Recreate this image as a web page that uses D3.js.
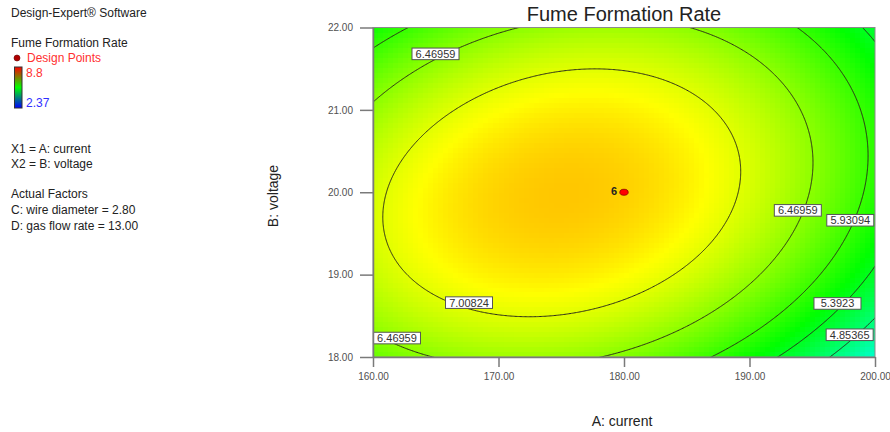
<!DOCTYPE html>
<html lang="en">
<head>
<meta charset="UTF-8">
<title>Fume Formation Rate</title>
<script src="https://d3js.org/d3.v7.min.js"></script>
<style>
  body { margin: 0; background: #fff; }
  svg text { font-family: Arial, "Liberation Sans", sans-serif; }
</style>
</head>
<body>
<svg id="chart" width="890" height="432"></svg>
<script>
// axis ticks
const currentTicks = [160, 170, 180, 190, 200];
const voltageTicks = [18, 19, 20, 21, 22];

// contour levels drawn in the plot and the colour range of the legend
const levels = [4.85365, 5.3923, 5.93094, 6.46959, 7.00824];
const colorMin = 2.37, colorMax = 8.8;

// design point (centre point, 6 replicates)
const designCurrent = [180];
const designVoltage = [20];
const designCount = [6];

// points: [current, voltage]
const trace4853 = [[200, 18.47], [198.01, 18.25], [196.55, 18.0]];
const trace5392 = [[200, 19.04], [199.6, 18.97], [196.95, 18.66], [192.29, 18.0]];
const trace5931 = [[160, 21.73], [163.08, 22.0], [194.02, 22.0], [196.95, 21.57], [198.8, 21.08],
  [199.47, 20.55], [199.34, 20.19], [198.01, 19.66], [197.35, 19.42], [197.21, 19.3],
  [191.63, 18.45], [190.84, 18.33], [186.85, 18.0]];
const trace6470 = [[160.02, 21.1], [165.08, 21.61], [167.99, 21.85], [171.71, 22.0],
  [185.26, 22.0], [189.51, 21.69], [192.96, 21.16], [194.56, 20.67], [194.96, 20.27],
  [194.56, 19.82], [193.23, 19.3], [190.84, 18.9], [187.09, 18.49], [181.27, 18.13],
  [178.22, 18.0], [160.0, 18.24], [161.89, 18.15], [164.94, 18.0]];
const trace7008 = [[160.82, 19.78], [161.35, 19.42], [162.02, 20.39], [164.68, 20.88],
  [169.72, 21.28], [172.25, 21.4], [177.03, 21.5], [180.72, 21.46], [182.87, 21.38],
  [186.32, 21.12], [188.18, 20.76], [189.11, 20.31], [188.71, 19.95], [186.85, 19.3],
  [184.46, 19.1], [179.12, 18.73], [171.18, 18.5], [167.33, 18.61], [163.35, 19.02]];
const traces = [trace4853, trace5392, trace5931, trace6470, trace7008];

// contour value boxes as placed in the picture
const labelValue = [6.46959, 6.46959, 5.93094, 7.00824, 6.46959, 5.3923, 4.85365];
const labelCurrent = [164.98, 193.85, 198.03, 167.65, 161.91, 197.01, 197.98];
const labelVoltage = [21.68, 19.78, 19.66, 18.66, 18.23, 18.65, 18.27];

const svg = d3.select('#chart');
const x = d3.scaleLinear().domain([160, 200]).range([373, 875]);
const y = d3.scaleLinear().domain([18, 22]).range([357, 27.5]);

// least squares cubic surface through the traced contour points (coded units)
const terms = (a, b) => [1, a, b, a * b, a * a, b * b, a * a * a, a * a * b, a * b * b, b * b * b];
function fitSurface() {
  const n = 10;
  const M = Array.from({ length: n }, () => new Array(n + 1).fill(0));
  traces.forEach((tr, k) => tr.forEach(([c, v]) => {
    const t = terms((c - 180) / 20, (v - 20) / 2);
    for (let i = 0; i < n; i++) {
      for (let j = 0; j < n; j++) M[i][j] += t[i] * t[j];
      M[i][n] += t[i] * levels[k];
    }
  }));
  for (let c = 0; c < n; c++) {
    let p = c;
    for (let r = c + 1; r < n; r++) if (Math.abs(M[r][c]) > Math.abs(M[p][c])) p = r;
    [M[c], M[p]] = [M[p], M[c]];
    for (let r = 0; r < n; r++) {
      if (r === c) continue;
      const f = M[r][c] / M[c][c];
      for (let k = c; k <= n; k++) M[r][k] -= f * M[c][k];
    }
  }
  return M.map((row, i) => row[n] / row[i]);
}
const coef = fitSurface();
const rate = (c, v) => d3.sum(terms((c - 180) / 20, (v - 20) / 2), (t, i) => t * coef[i]);

const color = d3.scaleLinear()
  .domain([0, 0.25, 0.5, 0.75, 1].map(t => colorMin + t * (colorMax - colorMin)))
  .range(['#0000ff', '#00ffff', '#00ff00', '#ffff00', '#ff0000'])
  .clamp(true);

svg.append('clipPath').attr('id', 'plotClip')
  .append('rect').attr('x', 373).attr('y', 27.5).attr('width', 502).attr('height', 329.5);

// colour map cells
const nx = 100, ny = 66;
const cells = [];
for (let j = 0; j < ny; j++) {
  for (let i = 0; i < nx; i++) {
    const c0 = 160 + 40 * i / nx, c1 = 160 + 40 * (i + 1) / nx;
    const v0 = 18 + 4 * j / ny, v1 = 18 + 4 * (j + 1) / ny;
    cells.push({ c0, c1, v0, v1, value: rate((c0 + c1) / 2, (v0 + v1) / 2) });
  }
}
const plot = svg.append('g').attr('clip-path', 'url(#plotClip)');
plot.selectAll('rect.cell').data(cells).enter().append('rect')
  .attr('class', 'cell')
  .attr('x', d => x(d.c0))
  .attr('y', d => y(d.v1))
  .attr('width', d => x(d.c1) - x(d.c0) + 0.4)
  .attr('height', d => y(d.v0) - y(d.v1) + 0.4)
  .attr('fill', d => color(d.value))
  .attr('shape-rendering', 'crispEdges');

// contour lines on a grid slightly larger than the plot, clipped to it
const gx0 = 158, gdx = 0.1, gnx = 441, gy0 = 17.8, gdy = 0.01, gny = 441;
const grid = new Array(gnx * gny);
for (let j = 0; j < gny; j++) for (let i = 0; i < gnx; i++) grid[j * gnx + i] = rate(gx0 + i * gdx, gy0 + j * gdy);
const contours = d3.contours().size([gnx, gny]).thresholds(levels)(grid);
const toPlot = pt => [x(gx0 + (pt[0] - 0.5) * gdx), y(gy0 + (pt[1] - 0.5) * gdy)];
const path = d3.geoPath();
plot.selectAll('path.contour').data(contours).enter().append('path')
  .attr('class', 'contour')
  .attr('d', d => path({ type: 'MultiPolygon', coordinates: d.coordinates.map(poly => poly.map(ring => ring.map(toPlot))) }))
  .attr('fill', 'none')
  .attr('stroke', '#2a2a1a')
  .attr('stroke-width', 1);

// contour value boxes
const boxes = svg.selectAll('g.clabel').data(labelValue).enter().append('g')
  .attr('class', 'clabel')
  .attr('transform', (d, i) => `translate(${x(labelCurrent[i])},${y(labelVoltage[i])})`);
boxes.append('rect')
  .attr('x', -23.5).attr('y', -5.8).attr('width', 47).attr('height', 11.6)
  .attr('fill', '#fff').attr('stroke', '#555').attr('stroke-width', 1);
boxes.append('text')
  .attr('text-anchor', 'middle').attr('y', 4)
  .attr('font-size', 11).attr('fill', '#333')
  .text(d => String(d));

// design point
svg.selectAll('ellipse.dp').data(designCurrent).enter().append('ellipse')
  .attr('class', 'dp')
  .attr('cx', d => x(d)).attr('cy', (d, i) => y(designVoltage[i]))
  .attr('rx', 4.2).attr('ry', 3)
  .attr('fill', '#ff0000').attr('stroke', '#8b0000').attr('stroke-width', 0.8);
svg.selectAll('text.dpcount').data(designCurrent).enter().append('text')
  .attr('class', 'dpcount')
  .attr('x', d => x(d) - 7).attr('y', (d, i) => y(designVoltage[i]) + 3)
  .attr('text-anchor', 'end').attr('font-size', 11).attr('font-weight', 'bold').attr('fill', '#222')
  .text((d, i) => designCount[i]);

// frame and axes
svg.append('rect').attr('x', 373).attr('y', 27.5).attr('width', 502).attr('height', 329.5)
  .attr('fill', 'none').attr('stroke', '#8a8a8a').attr('stroke-width', 1);

const xAxis = svg.append('g').attr('transform', 'translate(0,357)')
  .call(d3.axisBottom(x).tickValues(currentTicks).tickFormat(d3.format('.2f')).tickSize(10).tickSizeOuter(0));
const yAxis = svg.append('g').attr('transform', 'translate(373,0)')
  .call(d3.axisLeft(y).tickValues(voltageTicks).tickFormat(d3.format('.2f')).tickSize(13).tickSizeOuter(0));
[xAxis, yAxis].forEach(ax => {
  ax.select('.domain').attr('stroke', '#7a7a7a').attr('stroke-width', 1.5);
  ax.selectAll('.tick line').attr('stroke', '#7a7a7a').attr('stroke-width', 1.5);
  ax.selectAll('.tick text').attr('font-size', 10).attr('fill', '#505050')
    .attr('font-family', 'Arial, "Liberation Sans", sans-serif');
});
xAxis.selectAll('.tick text').attr('dy', '0.71em').attr('y', 16);
yAxis.selectAll('.tick text').attr('x', -20);

svg.append('text').attr('x', 624).attr('y', 21).attr('text-anchor', 'middle')
  .attr('font-size', 20).attr('fill', '#222').text('Fume Formation Rate');
svg.append('text').attr('x', 622).attr('y', 426).attr('text-anchor', 'middle')
  .attr('font-size', 14).attr('fill', '#222').text('A: current');
svg.append('text').attr('transform', 'translate(278,196) rotate(-90)').attr('text-anchor', 'middle')
  .attr('font-size', 14).attr('fill', '#222').text('B: voltage');

// left information panel
const info = [
  { t: 'Design-Expert® Software', y: 17 },
  { t: 'Fume Formation Rate', y: 47 },
  { t: 'X1 = A: current', y: 153 },
  { t: 'X2 = B: voltage', y: 168 },
  { t: 'Actual Factors', y: 198 },
  { t: 'C: wire diameter = 2.80', y: 214 },
  { t: 'D: gas flow rate = 13.00', y: 230 }
];
svg.selectAll('text.info').data(info).enter().append('text')
  .attr('class', 'info').attr('x', 11).attr('y', d => d.y)
  .attr('font-size', 12).attr('fill', '#222').text(d => d.t);

svg.append('circle').attr('cx', 17).attr('cy', 58).attr('r', 3)
  .attr('fill', '#b00000').attr('stroke', '#600').attr('stroke-width', 0.6);
svg.append('text').attr('x', 27).attr('y', 62).attr('font-size', 12).attr('fill', '#ff3030').text('Design Points');

const grad = svg.append('defs').append('linearGradient').attr('id', 'legendGrad')
  .attr('x1', 0).attr('y1', 0).attr('x2', 0).attr('y2', 1);
grad.selectAll('stop').data([['0%', '#ff0000'], ['50%', '#00ff00'], ['100%', '#0000ff']]).enter().append('stop')
  .attr('offset', d => d[0]).attr('stop-color', d => d[1]);
svg.append('rect').attr('x', 14.5).attr('y', 67).attr('width', 7.5).attr('height', 41)
  .attr('fill', 'url(#legendGrad)').attr('stroke', '#333').attr('stroke-width', 1);
svg.append('text').attr('x', 26).attr('y', 77).attr('font-size', 12).attr('fill', '#ff3030').text(String(colorMax));
svg.append('text').attr('x', 26).attr('y', 107).attr('font-size', 12).attr('fill', '#3030ff').text(String(colorMin));
</script>
</body>
</html>
